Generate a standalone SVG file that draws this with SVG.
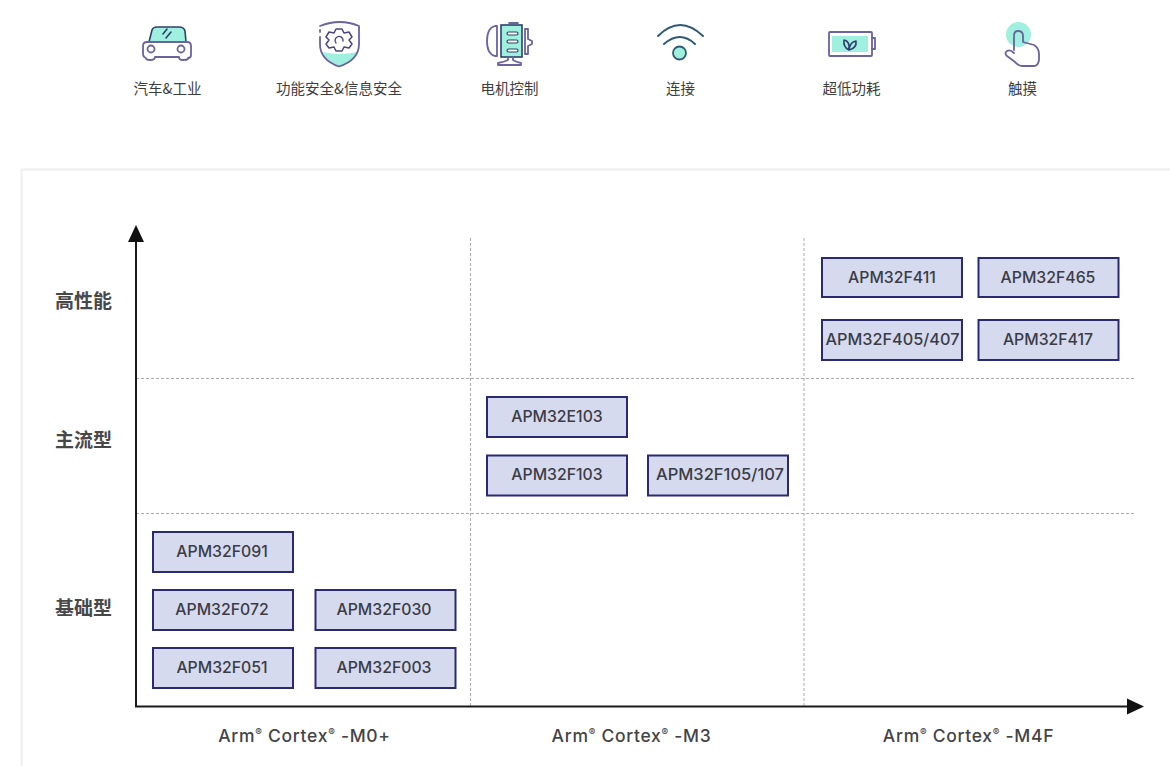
<svg xmlns="http://www.w3.org/2000/svg" width="1170" height="766" viewBox="0 0 1170 766">
<style>
.cap{font:400 14.5px "Noto Sans CJK SC","Liberation Sans",sans-serif;fill:#3d3d3d;text-anchor:middle}
.row{font:700 19px "Noto Sans CJK SC","Liberation Sans",sans-serif;fill:#484848;text-anchor:middle}
.box{fill:#d5daee;stroke:#2a2a72;stroke-width:2}
.lbl{font:500 15.8px Inter,"Liberation Sans",sans-serif;fill:#3c3c46;text-anchor:middle}
.ax{font:500 17.5px Inter,"Liberation Sans",sans-serif;fill:#444;text-anchor:middle;letter-spacing:.7px}
.sup{font-size:10px}
.dash{stroke:#aaa;stroke-width:1;stroke-dasharray:3 2;fill:none}
.axis{stroke:#1a1a1a;stroke-width:2;fill:none}
.ic{fill:none;stroke:#6b629e;stroke-width:1.800;stroke-linejoin:round;stroke-linecap:round}
.dk{fill:none;stroke:#2f3f6e;stroke-width:1.600;stroke-linecap:round;stroke-linejoin:round}
.mint{fill:#9ff0de}
.bar{fill:#fff;stroke:#2f3f6e;stroke-width:1.200}
</style>
<defs>
<marker id="ah" markerUnits="userSpaceOnUse" markerWidth="18" markerHeight="18" refX="1" refY="9" orient="auto"><path d="M0 1L17 9L0 17Z" fill="#111"/></marker>
</defs>
<rect width="1170" height="766" fill="#fff"/>
<path d="M1170 169.500H21.500V766" fill="none" stroke="#eeeeee" stroke-width="2"/>

<g id="icon-car">
<path class="mint" d="M149 42L152 30Q153 27 157 27H179Q184 27 185 31L186 42Z"/>
<path class="dk" d="M149 42L152 30Q153 27 157 27H179Q184 27 185 31L186 42"/>
<path class="dk" d="M163 34L167 29M166 38L171 32" stroke-width="1.300"/>
<path class="ic" d="M147 42H187Q191 42 191 46V55Q191 58 188 58V59Q187 60 183 60Q179 60 179 57H155Q155 60 150 60Q146 60 146 58Q143 57 143 54V46Q143 42 147 42Z"/>
<circle class="ic" cx="151" cy="49" r="3.500"/><circle class="ic" cx="181" cy="49" r="3.500"/>
<text class="cap" x="167.500" y="93.500">汽车&amp;工业</text>
</g>
<g id="icon-shield">
<path class="mint" d="M323 52Q340 56 357 52Q355 61 339 67Q325 62 323 52Z"/>
<path class="ic" d="M320 26Q340 18 359 26V44Q359 60 339 66.500Q320 60 320 44V37M320 32V30"/>
<path d="M336 29L342 29L344 33L349 32L352 37L349 40L352 44L349 48L344 47L342 51L336 51L334 47L329 48L326 44L329 40L326 37L329 32L334 33Z" fill="none" stroke="#4a4580" stroke-width="1.500" stroke-linejoin="round"/>
<path d="M336 43A4 4 0 1 1 343 41" fill="none" stroke="#4a4580" stroke-width="1.400" stroke-linecap="round"/>
<text class="cap" x="339" y="93.500">功能安全&amp;信息安全</text>
</g>
<g id="icon-motor">
<path class="ic" d="M497 26H495Q487 28 487 41Q487 54 495 56H497Z"/>
<rect class="mint" x="501" y="25" width="21" height="32"/>
<rect x="501" y="25" width="21" height="32" fill="none" stroke="#2f3f6e" stroke-width="1.600"/>
<path class="dk" d="M509 23H518" stroke-width="2.500"/>
<rect class="bar" x="507" y="32" width="11" height="3" rx="1.500"/>
<rect class="bar" x="507" y="40" width="11" height="3" rx="1.500"/>
<rect class="bar" x="507" y="49" width="11" height="3" rx="1.500"/>
<path class="ic" d="M525 29H528V39L532 41V44L528 46V54H525Z"/>
<path class="ic" d="M508 57V60Q504 62 498 63V65H521V63Q516 62 513 60V57"/>
<text class="cap" x="509.500" y="93.500">电机控制</text>
</g>
<g id="icon-wifi">
<path d="M658 36Q680 14 703 36" fill="none" stroke="#2f5a76" stroke-width="2" stroke-linecap="round"/>
<path d="M664 44Q680 30 695 44" fill="none" stroke="#2f5a76" stroke-width="2" stroke-linecap="round"/>
<circle class="mint" cx="679.500" cy="53" r="6.500" stroke="#2f5a76" stroke-width="1.800"/>
<text class="cap" x="680.500" y="93.500">连接</text>
</g>
<g id="icon-battery">
<rect class="ic" x="829" y="32" width="43" height="24" rx="1"/>
<path class="ic" d="M872 38H875V49H872"/>
<rect class="mint" x="832" y="36" width="36" height="16"/>
<path class="dk" d="M849 50Q843 47 844 40Q850 41 849 50ZM849 50Q857 48 856 41Q850 42 849 50Z" stroke-width="1.200"/>
<text class="cap" x="851.500" y="93.500">超低功耗</text>
</g>
<g id="icon-touch">
<circle class="mint" cx="1018.500" cy="34.500" r="12.500"/>
<path class="ic" d="M1014 50V36Q1014 31 1018 31Q1023 31 1023 36V42L1034 45Q1039 48 1039 54V60Q1038 66 1034 66H1022Q1019 66 1015 62L1007 56Q1004 53 1007 51Q1010 49 1014 53"/>
<text class="cap" x="1022.500" y="93.500">触摸</text>
</g>

<g id="connectors">
<path class="dash" d="M136 378.500H1135M136 513.500H1135M470.500 238V706M804 238V706"/>
<path class="axis" d="M136 706V241" marker-end="url(#ah)"/>
<path class="axis" d="M135 706.500H1128" marker-end="url(#ah)"/>
</g>

<text class="row" x="83.500" y="307.500">高性能</text>
<text class="row" x="83.500" y="446.500">主流型</text>
<text class="row" x="83.500" y="614.500">基础型</text>

<g id="n-f411"><rect class="box" x="822" y="258" width="140" height="39"/><text class="lbl" x="892" y="282.500">APM32F411</text></g>
<g id="n-f465"><rect class="box" x="978.500" y="258" width="140" height="39"/><text class="lbl" x="1048" y="282.500">APM32F465</text></g>
<g id="n-f405"><rect class="box" x="822" y="320" width="140" height="40"/><text class="lbl" x="892.500" y="344.500" textLength="134" lengthAdjust="spacingAndGlyphs">APM32F405/407</text></g>
<g id="n-f417"><rect class="box" x="978.500" y="320" width="140" height="40"/><text class="lbl" x="1048" y="344.500">APM32F417</text></g>
<g id="n-e103"><rect class="box" x="487" y="397" width="140" height="40"/><text class="lbl" x="557" y="421.500">APM32E103</text></g>
<g id="n-f103"><rect class="box" x="487" y="455.500" width="140" height="40"/><text class="lbl" x="557" y="480">APM32F103</text></g>
<g id="n-f105"><rect class="box" x="648" y="455.500" width="140" height="40"/><text class="lbl" x="720" y="480" textLength="128" lengthAdjust="spacingAndGlyphs">APM32F105/107</text></g>
<g id="n-f091"><rect class="box" x="153" y="532" width="140" height="40"/><text class="lbl" x="222" y="556.500">APM32F091</text></g>
<g id="n-f072"><rect class="box" x="153" y="590" width="140" height="40"/><text class="lbl" x="222" y="614.500">APM32F072</text></g>
<g id="n-f030"><rect class="box" x="315.500" y="590" width="140" height="40"/><text class="lbl" x="384" y="614.500">APM32F030</text></g>
<g id="n-f051"><rect class="box" x="153" y="648" width="140" height="40"/><text class="lbl" x="222" y="672.500">APM32F051</text></g>
<g id="n-f003"><rect class="box" x="315.500" y="648" width="140" height="40"/><text class="lbl" x="384" y="672.500">APM32F003</text></g>

<text class="ax" x="304.500" y="741.500">Arm<tspan class="sup" dy="-6">®</tspan><tspan dy="6"> Cortex</tspan><tspan class="sup" dy="-6">®</tspan><tspan dy="6"> -M0+</tspan></text>
<text class="ax" x="631.500" y="741.500">Arm<tspan class="sup" dy="-6">®</tspan><tspan dy="6"> Cortex</tspan><tspan class="sup" dy="-6">®</tspan><tspan dy="6"> -M3</tspan></text>
<text class="ax" x="968.500" y="741.500">Arm<tspan class="sup" dy="-6">®</tspan><tspan dy="6"> Cortex</tspan><tspan class="sup" dy="-6">®</tspan><tspan dy="6"> -M4F</tspan></text>
</svg>
